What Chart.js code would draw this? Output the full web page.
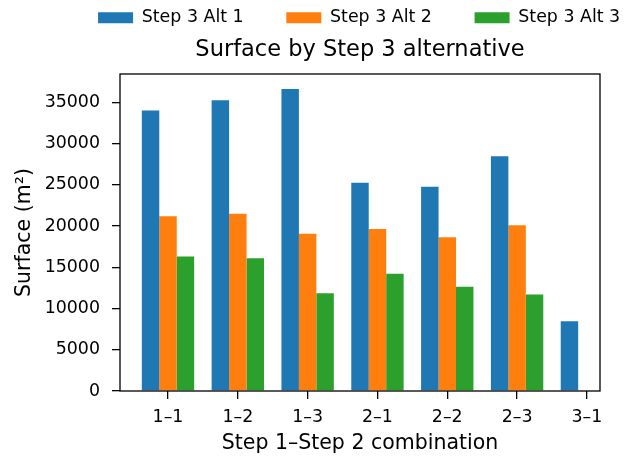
<!DOCTYPE html>
<html>
<head>
<meta charset="utf-8">
<script src="https://cdn.jsdelivr.net/npm/chart.js@4/dist/chart.umd.min.js"></script>
<style>
html,body{margin:0;padding:0;background:#fff;}
#c{display:block;}
</style>
</head>
<body>
<canvas id="c" width="638" height="459"></canvas>
<script>
const categories = ['1–1', '1–2', '1–3', '2–1', '2–2', '2–3', '3–1'];
const seriesNames = ['Step 3 Alt 1', 'Step 3 Alt 2', 'Step 3 Alt 3'];
const alt1 = [34000, 35250, 36600, 25250, 24750, 28450, 8450];
const alt2 = [21200, 21500, 19050, 19650, 18650, 20100, null];
const alt3 = [16300, 16100, 11850, 14200, 12650, 11700, null];
const yTicks = [0, 5000, 10000, 15000, 20000, 25000, 30000, 35000];
const colors = ['#1f77b4', '#ff7f0e', '#2ca02c'];

const FONT = 'DejaVu Sans';
const toPoints = arr => arr.map((v, i) => ({x: i, y: v}));

const framePlugin = {
  id: 'frame',
  afterDatasetsDraw(chart) {
    const {ctx, chartArea: a} = chart;
    ctx.save();
    ctx.strokeStyle = '#000';
    ctx.lineWidth = 1.3;
    ctx.strokeRect(a.left, a.top, a.right - a.left, a.bottom - a.top);
    ctx.restore();
  }
};
// centre title over the axes and place the legend like the reference
const placeBlocks = {
  id: 'placeBlocks',
  afterLayout(chart) {
    const a = chart.chartArea;
    const t = chart.titleBlock;
    if (t) { t.left = a.left; t.right = a.right; }
    const l = chart.legend;
    if (l) {
      const dx = 40.1, dy = -33.6;
      l.left += dx; l.right += dx; l.top += dy;
    }
  }
};

new Chart(document.getElementById('c'), {
  type: 'bar',
  data: {
    datasets: [alt1, alt2, alt3].map((d, i) => ({
      label: seriesNames[i],
      data: toPoints(d),
      backgroundColor: colors[i],
      borderWidth: 0,
      categoryPercentage: 0.75,
      barPercentage: 1.0
    }))
  },
  plugins: [framePlugin, placeBlocks],
  options: {
    responsive: false,
    animation: false,
    layout: {padding: {left: 0, right: 0, top: 0, bottom: 0}},
    plugins: {
      legend: {
        position: 'top',
        weight: 3000,
        maxHeight: 30,
        labels: {boxWidth: 35, boxHeight: 11, padding: 42.7, color: '#000', font: {family: FONT, size: 17.4}}
      },
      title: {
        display: true,
        text: 'Surface by Step 3 alternative',
        color: '#000',
        font: {family: FONT, size: 22.5, weight: 'normal'},
        padding: {top: 6.5, bottom: 10.5}
      },
      tooltip: {enabled: false}
    },
    scales: {
      x: {
        type: 'linear',
        min: -0.6875,
        max: 6.1875,
        offset: false,
        border: {display: false},
        grid: {offset: false, drawOnChartArea: false, drawTicks: true, tickLength: 8, color: '#000', lineWidth: 1.3},
        afterBuildTicks: s => { s.ticks = categories.map((_, i) => ({value: i})); },
        afterFit: s => { s.height = 68; },
        ticks: {
          autoSkip: false, maxRotation: 0, color: '#000', padding: 8,
          font: {family: FONT, size: 17.4},
          callback: v => categories[v] ?? ''
        },
        title: {display: true, text: 'Step 1–Step 2 combination', color: '#000', font: {family: FONT, size: 20.5}, padding: {top: 0, bottom: 3.2}}
      },
      y: {
        min: 0,
        max: 38430,
        border: {display: false},
        grid: {drawOnChartArea: false, drawTicks: true, tickLength: 8, color: '#000', lineWidth: 1.3},
        afterBuildTicks: s => { s.ticks = yTicks.map(v => ({value: v})); },
        afterFit: s => { s.width = 120; },
        ticks: {
          color: '#000', padding: 12,
          font: {family: FONT, size: 17.4},
          callback: v => String(v)
        },
        title: {display: true, text: 'Surface (m²)', color: '#000', font: {family: FONT, size: 20.5}, padding: {top: 12.7, bottom: 0}}
      },
      // empty right-hand margin strip (keeps the plot's right edge where the reference has it)
      margin: {
        type: 'linear',
        position: 'right',
        display: true,
        border: {display: false},
        grid: {display: false, drawTicks: false},
        ticks: {display: false},
        afterFit: s => { s.width = 38; }
      }
    }
  }
});
</script>
</body>
</html>
